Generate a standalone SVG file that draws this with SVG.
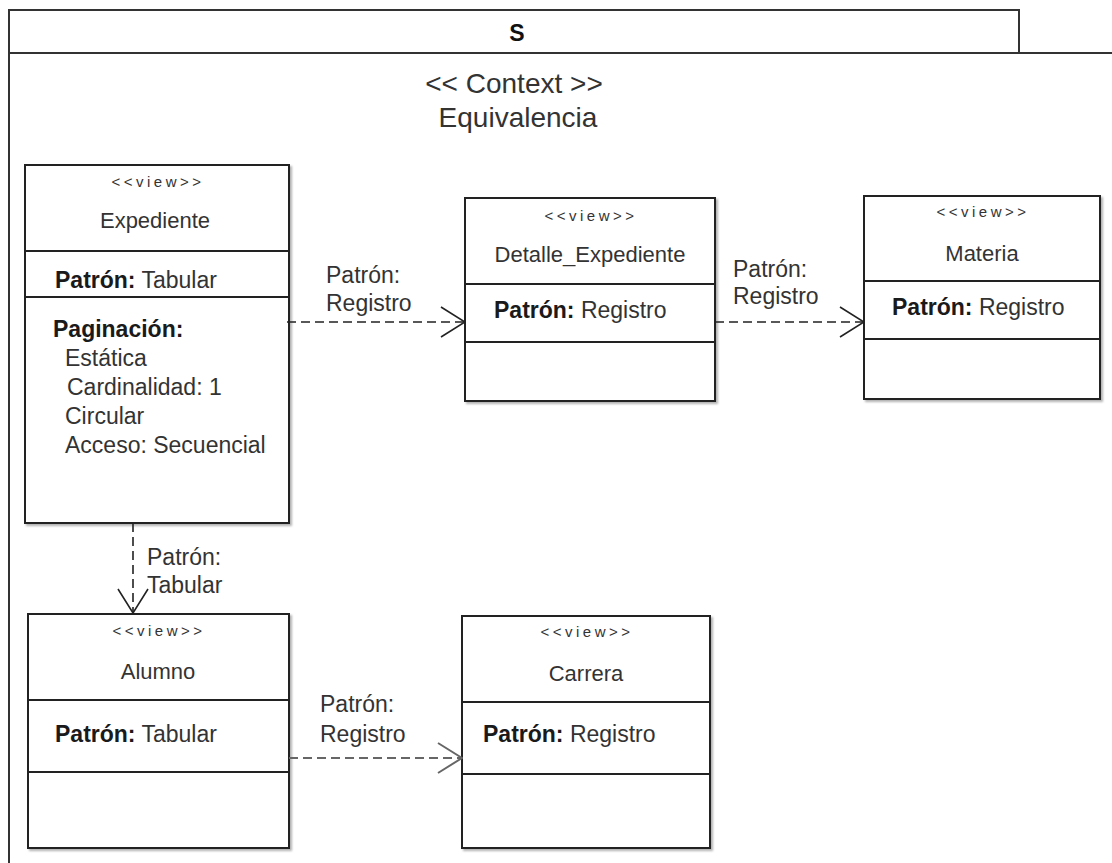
<svg xmlns="http://www.w3.org/2000/svg" width="1112" height="863" viewBox="0 0 1112 863">
  <style>
    text { font-family: "Liberation Sans", Arial, sans-serif; fill: #333; }
    .title { font-size: 23px; font-weight: bold; fill: #111; }
    .ctx { font-size: 28px; text-anchor: middle; }
    .stereo { font-size: 15px; letter-spacing: 3.5px; text-anchor: middle; }
    .name { font-size: 22px; text-anchor: middle; }
    .attr { font-size: 23px; }
    .attr .k { font-weight: bold; fill: #1a1a1a; }
    .lbl { font-size: 23px; }
    .box { fill: #fff; stroke: #222; stroke-width: 2; filter: url(#shadow); }
    .sep { stroke: #222; stroke-width: 2; }
    .frame { fill: none; stroke: #333; stroke-width: 2; }
    .dep { fill: none; stroke: #222; stroke-width: 1.6; stroke-dasharray: 9 5; marker-end: url(#open); }
    .dep.gray { stroke: #666; stroke-width: 2.2; marker-end: url(#openGray); }
  </style>
  <defs>
    <filter id="shadow" x="-5%" y="-5%" width="115%" height="115%">
      <feDropShadow dx="2" dy="2" stdDeviation="1" flood-color="#000" flood-opacity="0.3"/>
    </filter>
    <marker id="open" viewBox="0 0 26 32" refX="25" refY="16" markerWidth="26" markerHeight="32" orient="auto" markerUnits="userSpaceOnUse">
      <path d="M1,1 L25,16 L1,31" fill="none" stroke="#222" stroke-width="1.6"/>
    </marker>
    <marker id="openGray" viewBox="0 0 26 32" refX="25" refY="16" markerWidth="26" markerHeight="32" orient="auto" markerUnits="userSpaceOnUse">
      <path d="M1,1 L25,16 L1,31" fill="none" stroke="#666" stroke-width="2"/>
    </marker>
  </defs>

  <rect width="1112" height="863" fill="#fff"/>

  <!-- package frame S -->
  <g id="package-S">
    <rect class="frame" x="9" y="10" width="1010" height="43"/>
    <path class="frame" d="M9,53 L1112,53 M9,53 L9,863"/>
    <text class="title" x="517" y="41" text-anchor="middle">S</text>
    <text class="ctx" x="514" y="93">&lt;&lt; Context &gt;&gt;</text>
    <text class="ctx" x="518" y="127">Equivalencia</text>
  </g>

  <!-- views -->
  <g id="node-expediente">
    <rect class="box" x="25" y="165" width="264" height="358"/>
    <line class="sep" x1="25" y1="251" x2="289" y2="251"/>
    <line class="sep" x1="25" y1="297" x2="289" y2="297"/>
    <text class="stereo" x="158" y="187">&lt;&lt;view&gt;&gt;</text>
    <text class="name" x="155" y="228">Expediente</text>
    <text class="attr" x="55" y="288"><tspan class="k">Patrón:</tspan> Tabular</text>
    <text class="attr" x="53" y="337"><tspan class="k">Paginación:</tspan></text>
    <text class="attr" x="65" y="366">Estática</text>
    <text class="attr" x="67" y="395">Cardinalidad: 1</text>
    <text class="attr" x="65" y="424">Circular</text>
    <text class="attr" x="65" y="453">Acceso: Secuencial</text>
  </g>

  <g id="node-detalle-expediente">
    <rect class="box" x="465" y="198" width="250" height="203"/>
    <line class="sep" x1="465" y1="284" x2="715" y2="284"/>
    <line class="sep" x1="465" y1="342" x2="715" y2="342"/>
    <text class="stereo" x="591" y="221">&lt;&lt;view&gt;&gt;</text>
    <text class="name" x="590" y="262">Detalle_Expediente</text>
    <text class="attr" x="494" y="318"><tspan class="k">Patrón:</tspan> Registro</text>
  </g>

  <g id="node-materia">
    <rect class="box" x="864" y="196" width="236" height="203"/>
    <line class="sep" x1="864" y1="281" x2="1100" y2="281"/>
    <line class="sep" x1="864" y1="339" x2="1100" y2="339"/>
    <text class="stereo" x="983" y="217">&lt;&lt;view&gt;&gt;</text>
    <text class="name" x="982" y="261">Materia</text>
    <text class="attr" x="892" y="315"><tspan class="k">Patrón:</tspan> Registro</text>
  </g>

  <g id="node-alumno">
    <rect class="box" x="28" y="614" width="261" height="234"/>
    <line class="sep" x1="28" y1="700" x2="289" y2="700"/>
    <line class="sep" x1="28" y1="772" x2="289" y2="772"/>
    <text class="stereo" x="159" y="636">&lt;&lt;view&gt;&gt;</text>
    <text class="name" x="158" y="679">Alumno</text>
    <text class="attr" x="55" y="742"><tspan class="k">Patrón:</tspan> Tabular</text>
  </g>

  <g id="node-carrera">
    <rect class="box" x="462" y="616" width="248" height="232"/>
    <line class="sep" x1="462" y1="702" x2="710" y2="702"/>
    <line class="sep" x1="462" y1="774" x2="710" y2="774"/>
    <text class="stereo" x="587" y="637">&lt;&lt;view&gt;&gt;</text>
    <text class="name" x="586" y="681">Carrera</text>
    <text class="attr" x="483" y="742"><tspan class="k">Patrón:</tspan> Registro</text>
  </g>

  <!-- dependencies -->
  <g id="connectors">
    <line class="dep" x1="287" y1="322" x2="465" y2="322"/>
    <text class="lbl" x="326" y="283">Patrón:</text>
    <text class="lbl" x="326" y="311">Registro</text>

    <line class="dep" x1="715" y1="322" x2="864" y2="322"/>
    <text class="lbl" x="733" y="277">Patrón:</text>
    <text class="lbl" x="733" y="304">Registro</text>

    <line class="dep" x1="133" y1="523" x2="133" y2="613"/>
    <text class="lbl" x="147" y="565">Patrón:</text>
    <text class="lbl" x="147" y="593">Tabular</text>

    <line class="dep gray" x1="289" y1="758" x2="462" y2="758"/>
    <text class="lbl" x="320" y="712">Patrón:</text>
    <text class="lbl" x="320" y="742">Registro</text>
  </g>
</svg>
